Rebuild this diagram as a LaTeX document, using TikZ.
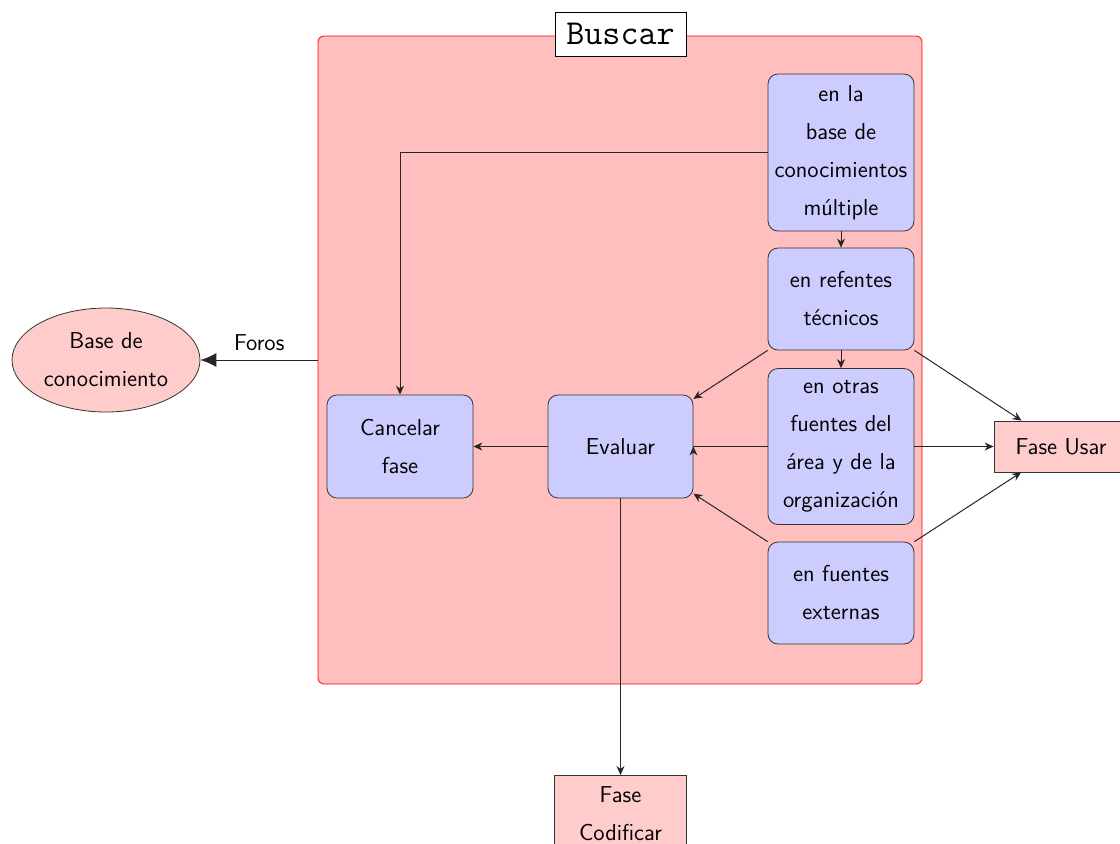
\documentclass[tikz,border=0pt]{standalone}
\usetikzlibrary{arrows.meta,shapes.geometric,calc}
\definecolor{phasefill}{HTML}{FFCCCC}
\definecolor{areafill}{HTML}{FFBFBF}
\definecolor{stepfill}{HTML}{CCCCFF}
\begin{document}
\begin{tikzpicture}[x=0.5pt,y=-0.5pt,
  every node/.style={font=\sffamily\fontsize{11.5}{19}\selectfont, align=center},
  sub/.style={draw=black!80, fill=stepfill, rounded corners=5pt, minimum width=73pt, text width=68pt, inner sep=0pt},
  phase/.style={draw=black!80, fill=phasefill, inner sep=0pt},
  link/.style={draw=black!85, line width=0.5pt, -{Stealth[length=4.5pt,width=4pt]}},
]
\useasboundingbox (0,0) rectangle (1120,843);

% search area
\draw[red, fill=areafill, rounded corners=3pt] (318,36) rectangle (922,684);
\node[draw=black, fill=white, minimum width=65.5pt, minimum height=22pt, inner sep=0pt,
      font=\ttfamily\fontsize{17.5}{20}\selectfont] (title) at (620.5,34) {Buscar};

% search steps
\node[sub, minimum height=78.5pt] (base) at (841,152.5) {en la\\base de\\conocimientos\\múltiple};
\node[sub, minimum height=51pt] (ref) at (841,299) {en refentes\\técnicos};
\node[sub, minimum height=78pt] (otras) at (841,446.5) {en otras\\fuentes del\\área y de la\\organización};
\node[sub, minimum height=51pt] (ext) at (841,593) {en fuentes\\externas};
\node[sub, minimum height=51.5pt] (cancel) at (400,446.5) {Cancelar\\fase};
\node[sub, minimum width=72.5pt, minimum height=51.5pt] (eval) at (620.5,446.5) {Evaluar};

% outer phases
\node[phase, minimum width=67pt, minimum height=25.5pt] (usar) at (1061,446.5) {Fase Usar};
\node[phase, anchor=north, minimum width=66pt, minimum height=38pt, text width=60pt, inner ysep=0pt] (cod) at (620.5,775) {Fase\\Codificar};
\node[draw=black!80, fill=phasefill, ellipse, minimum width=94pt, minimum height=52pt, inner sep=0pt] (kb) at (106,360) {Base de\\conocimiento};
\coordinate (forosStart) at (318,360);

% connectors
\draw[draw=black!85, line width=0.5pt, -{Latex[length=8pt,width=7pt]}] (forosStart) -- node[above, pos=0.5, yshift=1pt] (foros) {Foros} (kb);
\draw[link] (base.west) -| (cancel.north);
\draw[link] (base.south) -- (ref.north);
\draw[link] (ref.south) -- (otras.north);
\draw[link] (ref.south west) -- (eval);
\draw[link] (ref.south east) -- (usar);
\draw[link] (otras.east) -- (usar.west);
\draw[draw=black!85, line width=0.5pt] (otras.west) -- (eval.east);
\draw[link] ([yshift=-3pt]eval.east) -- (eval.east);
\draw[link] (ext.north west) -- (eval);
\draw[link] (ext.north east) -- (usar);
\draw[link] (eval.west) -- (cancel.east);
\draw[link] (eval.south) -- (cod.north);
\end{tikzpicture}
\end{document}
